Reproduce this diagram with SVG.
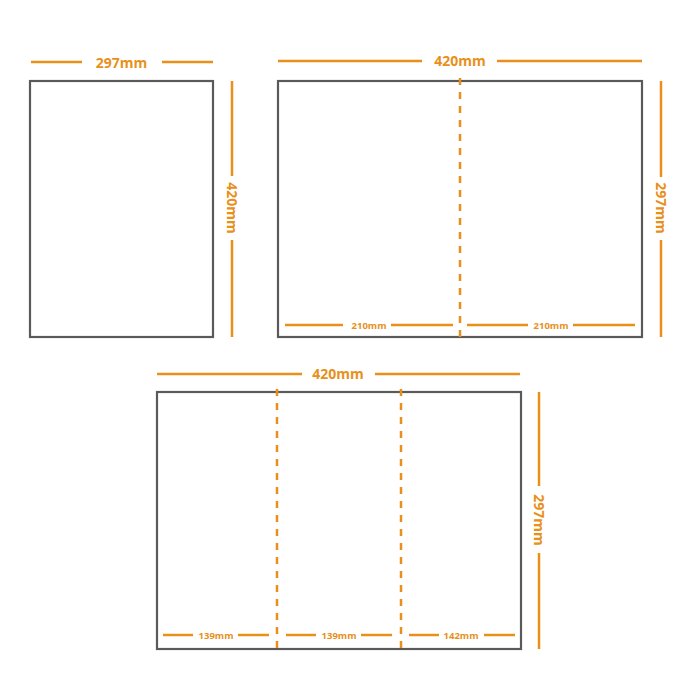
<svg xmlns="http://www.w3.org/2000/svg" width="700" height="700" viewBox="0 0 700 700">
<style>
.sheet{fill:#fff;stroke:#5a5a5a;stroke-width:2.2}
.dim{stroke:#e8901a;stroke-width:2.5;fill:none}
.fold{stroke:#e8901a;stroke-width:2.5;stroke-dasharray:7 7;fill:none}
.lbl{fill:#e8901a;font-family:"Open Sans","Liberation Sans",sans-serif;font-weight:700;font-size:14px;text-anchor:middle;dominant-baseline:central}
.sm{font-size:9.5px}
</style>
<rect width="700" height="700" fill="#fff"/>
<g id="sheet-a3-portrait">
  <rect class="sheet" x="30" y="81" width="183" height="256"/>
</g>
<g id="sheet-a3-bifold">
  <rect class="sheet" x="278" y="81" width="364" height="256"/>
</g>
<g id="sheet-a3-trifold">
  <rect class="sheet" x="157" y="392" width="364" height="257"/>
</g>
<g id="connectors">
  <!-- sheet 1 dims -->
  <line class="dim" x1="31" y1="62" x2="82" y2="62"/>
  <line class="dim" x1="162" y1="62" x2="213" y2="62"/>
  <line class="dim" x1="232" y1="81" x2="232" y2="176"/>
  <line class="dim" x1="232" y1="240" x2="232" y2="337"/>
  <!-- sheet 2 dims -->
  <line class="dim" x1="278" y1="61" x2="422" y2="61"/>
  <line class="dim" x1="497" y1="61" x2="642" y2="61"/>
  <line class="dim" x1="661" y1="81" x2="661" y2="177"/>
  <line class="dim" x1="661" y1="240" x2="661" y2="337"/>
  <line class="fold" x1="460" y1="78" x2="460" y2="338"/>
  <line class="dim" x1="285" y1="325" x2="343" y2="325"/>
  <line class="dim" x1="391" y1="325" x2="453" y2="325"/>
  <line class="dim" x1="467" y1="325" x2="528" y2="325"/>
  <line class="dim" x1="573" y1="325" x2="635" y2="325"/>
  <!-- sheet 3 dims -->
  <line class="dim" x1="157" y1="374" x2="302" y2="374"/>
  <line class="dim" x1="375" y1="374" x2="520" y2="374"/>
  <line class="dim" x1="539" y1="392" x2="539" y2="486"/>
  <line class="dim" x1="539" y1="553" x2="539" y2="649"/>
  <line class="fold" x1="277" y1="389" x2="277" y2="650"/>
  <line class="fold" x1="401" y1="389" x2="401" y2="650"/>
  <line class="dim" x1="163" y1="635" x2="193" y2="635"/>
  <line class="dim" x1="238" y1="635" x2="269" y2="635"/>
  <line class="dim" x1="286" y1="635" x2="316" y2="635"/>
  <line class="dim" x1="361" y1="635" x2="392" y2="635"/>
  <line class="dim" x1="409" y1="635" x2="439" y2="635"/>
  <line class="dim" x1="484" y1="635" x2="515" y2="635"/>
</g>
<g id="labels">
  <text class="lbl" x="121.5" y="62">297mm</text>
  <text class="lbl" transform="translate(232,208) rotate(90)">420mm</text>
  <text class="lbl" x="460" y="60">420mm</text>
  <text class="lbl" transform="translate(661,208) rotate(90)">297mm</text>
  <text class="lbl sm" x="369" y="325">210mm</text>
  <text class="lbl sm" x="551" y="325">210mm</text>
  <text class="lbl" x="338" y="373">420mm</text>
  <text class="lbl" transform="translate(539,520) rotate(90)">297mm</text>
  <text class="lbl sm" x="216" y="635">139mm</text>
  <text class="lbl sm" x="339" y="635">139mm</text>
  <text class="lbl sm" x="461" y="635">142mm</text>
</g>
</svg>
